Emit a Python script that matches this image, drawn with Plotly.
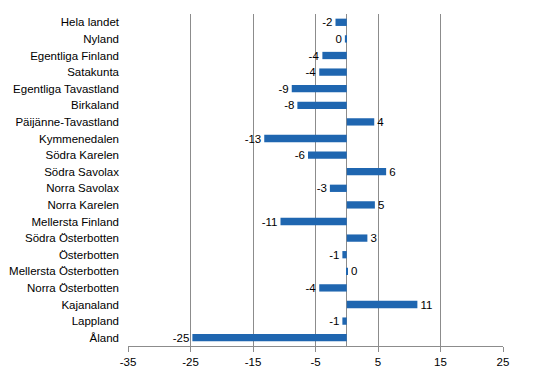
import plotly.graph_objects as go

regions = ["Hela landet", "Nyland", "Egentliga Finland", "Satakunta", "Egentliga Tavastland",
           "Birkaland", "Päijänne-Tavastland", "Kymmenedalen", "Södra Karelen", "Södra Savolax",
           "Norra Savolax", "Norra Karelen", "Mellersta Finland", "Södra Österbotten", "Österbotten",
           "Mellersta Österbotten", "Norra Österbotten", "Kajanaland", "Lappland", "Åland"]
values = [-1.8, -0.3, -3.9, -4.4, -8.8, -7.9, 4.4, -13.2, -6.2, 6.3,
          -2.7, 4.5, -10.6, 3.3, -0.7, 0.2, -4.4, 11.3, -0.7, -24.7]
labels = ["-2", "0", "-4", "-4", "-9", "-8", "4", "-13", "-6", "6",
          "-3", "5", "-11", "3", "-1", "0", "-4", "11", "-1", "-25"]
x_ticks = [-35, -25, -15, -5, 5, 15, 25]
x_tick_text = ["-35", "-25", "-15", "-5", "5", "15", "25"]

fig = go.Figure(go.Bar(
    x=values, y=regions, orientation="h",
    marker=dict(color="#1f66b0", line=dict(width=0)),
    text=labels, textposition="outside", cliponaxis=False, constraintext="none",
    textfont=dict(family="Liberation Sans, Arial", size=11.5, color="#000000"),
))

fig.update_layout(
    width=546, height=376,
    margin=dict(l=128, r=43, t=14, b=30),
    paper_bgcolor="white", plot_bgcolor="white",
    bargap=0.56, showlegend=False,
    font=dict(family="Liberation Sans, Arial", size=11.5, color="#000000"),
)
fig.update_xaxes(
    range=[-35, 25], tickvals=x_ticks, ticktext=x_tick_text,
    showgrid=True, gridcolor="#8c8c8c", gridwidth=1,
    showline=True, linecolor="#8c8c8c", ticks="outside", ticklen=5, tickcolor="#8c8c8c",
    zeroline=True, zerolinecolor="#8c8c8c", zerolinewidth=1,
    tickfont=dict(size=11.5), fixedrange=True, automargin=False,
)
fig.update_yaxes(
    autorange="reversed", showgrid=False, showline=False, ticks="", ticklabelstandoff=8,
    tickfont=dict(size=11.5), fixedrange=True, automargin=False,
)

fig.write_html("out.html", config={"displayModeBar": False},
               post_script="document.body.style.margin='0';document.body.style.overflow='hidden';")
